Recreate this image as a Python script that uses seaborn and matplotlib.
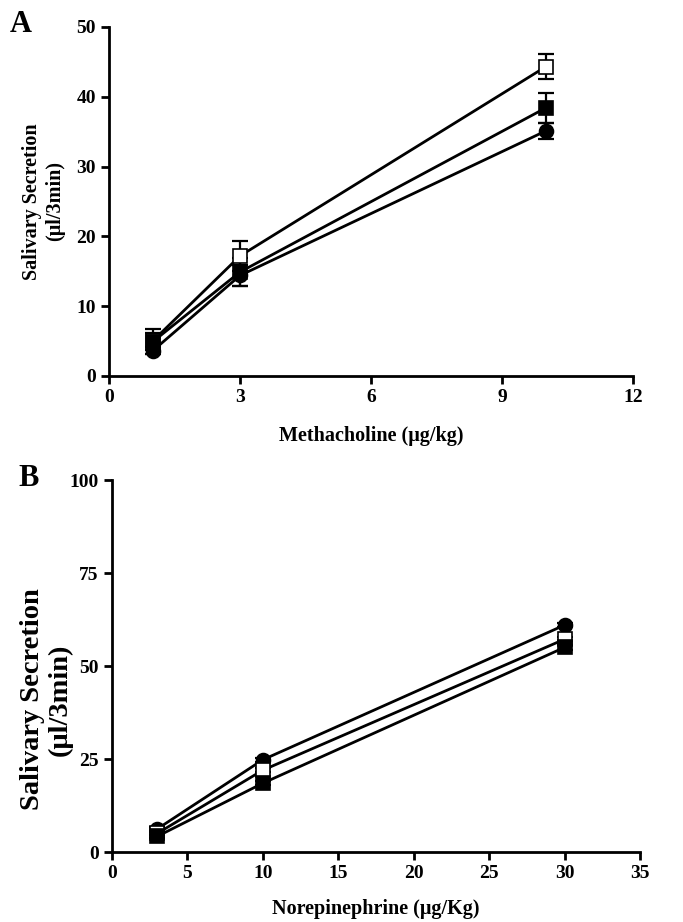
import numpy as np
import pandas as pd
import matplotlib
matplotlib.use("Agg")
import matplotlib.pyplot as plt
import seaborn as sns

# Panel A: methacholine dose (ug/kg)
mch_dose = [1, 3, 10]
mch_open_sq = [5.0, 17.2, 44.3]
mch_open_sq_err = [1.8, 2.2, 1.8]
mch_fill_sq = [4.9, 14.9, 38.4]
mch_fill_sq_err = [1.2, 2.0, 2.1]
mch_circle = [3.6, 14.4, 35.1]
mch_circle_err = [0.5, 1.5, 1.2]

# Panel B: norepinephrine dose (ug/Kg)
ne_dose = [3, 10, 30]
ne_circle = [6.2, 24.8, 61.0]
ne_circle_err = [0.5, 0.6, 0.6]
ne_open_sq = [5.0, 22.0, 57.2]
ne_open_sq_err = [0.5, 0.6, 0.6]
ne_fill_sq = [4.2, 18.5, 55.0]
ne_fill_sq_err = [0.5, 0.6, 0.6]

sns.set_style("ticks", {"axes.edgecolor": "black", "xtick.color": "black",
                        "ytick.color": "black", "text.color": "black",
                        "axes.labelcolor": "black"})
plt.rcParams['font.family'] = ['Liberation Serif', 'DejaVu Serif']
plt.rcParams['font.weight'] = 'bold'
plt.rcParams['axes.labelweight'] = 'bold'

styles = {
    "open_sq": dict(marker="s", mfc="white", mec="black"),
    "fill_sq": dict(marker="s", mfc="black", mec="black"),
    "circle": dict(marker="o", mfc="black", mec="black"),
}


def draw_panel(ax, dose, series):
    for name, y, err in series:
        df = pd.DataFrame({"dose": dose, "resp": y})
        ax.errorbar(dose, y, yerr=err, fmt="none", ecolor="black",
                    elinewidth=1.6, capsize=6, capthick=1.6, zorder=2)
        st = styles[name]
        sns.lineplot(data=df, x="dose", y="resp", ax=ax, color="black",
                     linewidth=2, marker=st["marker"], markersize=10,
                     markerfacecolor=st["mfc"], markeredgecolor=st["mec"],
                     markeredgewidth=1.2, zorder=3)
    sns.despine(ax=ax)
    for sp in ["left", "bottom"]:
        ax.spines[sp].set_linewidth(2)
    ax.tick_params(width=2, length=6, labelsize=14, direction="out", colors="black")
    for lab in ax.get_xticklabels() + ax.get_yticklabels():
        lab.set_fontweight("bold")


fig = plt.figure(figsize=(6.83, 9.22), dpi=100)
W, H = 683, 922

axA = fig.add_axes([109 / W, 1 - 376 / H, (633 - 109) / W, (376 - 27) / H])
draw_panel(axA, mch_dose, [
    ("open_sq", mch_open_sq, mch_open_sq_err),
    ("fill_sq", mch_fill_sq, mch_fill_sq_err),
    ("circle", mch_circle, mch_circle_err),
])
axA.set_xlim(0, 12)
axA.set_ylim(0, 50)
axA.set_xticks([0, 3, 6, 9, 12])
axA.set_yticks([0, 10, 20, 30, 40, 50])
axA.set_xlabel("Methacholine (μg/kg)", fontsize=14.5, fontweight="bold", labelpad=14)
axA.set_ylabel("Salivary Secretion\n(μl/3min)", fontsize=14.5, fontweight="bold",
               labelpad=8, linespacing=1.2)

axB = fig.add_axes([112 / W, 1 - 852 / H, (640 - 112) / W, (852 - 480) / H])
draw_panel(axB, ne_dose, [
    ("circle", ne_circle, ne_circle_err),
    ("open_sq", ne_open_sq, ne_open_sq_err),
    ("fill_sq", ne_fill_sq, ne_fill_sq_err),
])
axB.set_xlim(0, 35)
axB.set_ylim(0, 100)
axB.set_xticks(range(0, 36, 5))
axB.set_yticks([0, 25, 50, 75, 100])
axB.set_xlabel("Norepinephrine (μg/Kg)", fontsize=14.5, fontweight="bold", labelpad=12)
axB.set_ylabel("Salivary Secretion\n(μl/3min)", fontsize=20.5, fontweight="bold",
               linespacing=1.1)
axB.yaxis.set_label_coords(-0.075, 0.41)

fig.text(10 / W, 1 - 24 / H, "A", fontsize=22, fontweight="bold", va="center")
fig.text(18 / W, 1 - 478 / H, "B", fontsize=22, fontweight="bold", va="center")

fig.savefig("out.png", dpi=100)
